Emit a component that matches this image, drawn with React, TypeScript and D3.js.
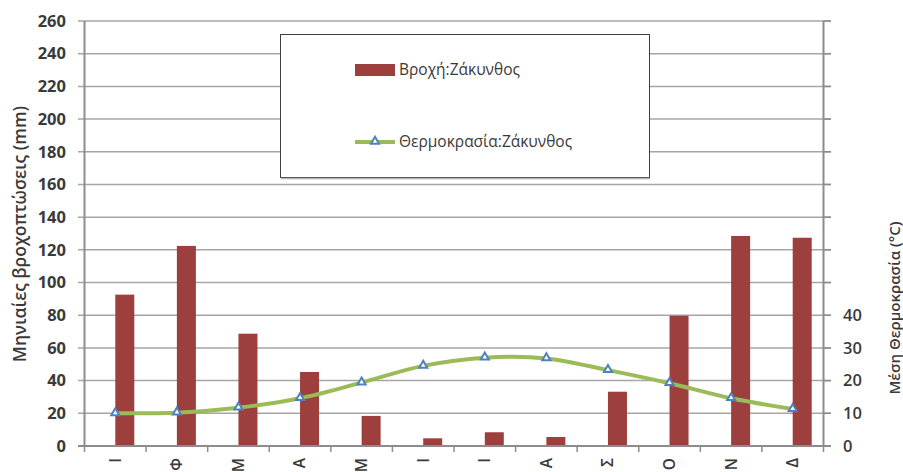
import React from "react";
import * as d3 from "d3";

const months = ["Ι", "Φ", "Μ", "Α", "Μ", "Ι", "Ι", "Α", "Σ", "Ο", "Ν", "Δ"];
const rain = [92.6, 122.4, 68.7, 45.3, 18.4, 4.7, 8.4, 5.5, 33.2, 79.7, 128.5, 127.4];
const temp = [10.0, 10.2, 11.7, 14.6, 19.4, 24.5, 27.0, 26.8, 23.2, 19.2, 14.6, 11.3];
const rainTicks = [0, 20, 40, 60, 80, 100, 120, 140, 160, 180, 200, 220, 240, 260];
const tempTicks = [0, 10, 20, 30, 40, 50, 60, 70, 80, 90, 100, 110, 120, 130];
const tempLabelTicks = [0, 10, 20, 30, 40];
const rainName = "Βροχή:Ζάκυνθος";
const tempName = "Θερμοκρασία:Ζάκυνθος";
const leftTitle = "Μηνιαίες βροχοπτώσεις (mm)";
const rightTitle = "Μέση Θερμοκρασία (°C)";

const W = 903;
const H = 472;
const L = 84.5;
const R = 823.5;
const T = 21;
const B = 446;
const FONT = "'Open Sans', 'DejaVu Sans', sans-serif";
const BAR = "#9c3f3d";
const LINE = "#9bbb59";
const MARK = "#4f81bd";
const GRID = "#a6a6a6";
const AXIS = "#8c8c8c";
const TXT = "#3a3a3a";

export default function App() {
  const idx = months.map((_, i) => i);
  const x = d3.scaleBand<number>().domain(idx).range([L, R]).padding(0);
  const yR = d3.scaleLinear().domain([0, 260]).range([B, T]);
  const yT = d3.scaleLinear().domain([0, 130]).range([B, T]);
  const cx = (i: number) => (x(i) as number) + x.bandwidth() / 2;
  const barW = 19;
  const line = d3
    .line<number>()
    .x((_, i) => cx(i))
    .y((d) => yT(d))
    .curve(d3.curveCatmullRom.alpha(0.5));
  const tri = d3.symbol().type(d3.symbolTriangle).size(28)();
  const boundaries = d3.range(months.length + 1).map((i) => L + i * x.bandwidth());

  return (
    <svg width={W} height={H} style={{ position: "absolute", left: 0, top: 0, background: "#fff" }}>
      {/* gridlines */}
      {rainTicks.filter((t) => t > 0).map((t) => (
        <line key={"g" + t} x1={78} x2={831} y1={yR(t)} y2={yR(t)} stroke={GRID} strokeWidth={1.5} />
      ))}
      {/* bars */}
      {rain.map((v, i) => (
        <rect key={"b" + i} x={cx(i)} y={yR(v)} width={barW} height={B - yR(v)} fill={BAR} />
      ))}
      {/* axes */}
      <line x1={L} x2={L} y1={T} y2={B} stroke={AXIS} strokeWidth={2} />
      <line x1={R} x2={R} y1={T} y2={B} stroke={AXIS} strokeWidth={2} />
      <line x1={78} x2={831} y1={B} y2={B} stroke={AXIS} strokeWidth={2} />
      {boundaries.map((bx, i) => (
        <line key={"xt" + i} x1={bx} x2={bx} y1={B} y2={B + 6} stroke={AXIS} strokeWidth={1.5} />
      ))}
      {/* left tick labels */}
      {rainTicks.map((t) => (
        <text key={"lt" + t} x={66} y={yR(t)} dy="0.35em" textAnchor="end" fontFamily={FONT}
          fontWeight="bold" fontSize={16.5} fill={TXT}>{t}</text>
      ))}
      {/* right ticks */}
      {tempTicks.map((t) => (
        <line key={"rt" + t} x1={R} x2={831} y1={yT(t)} y2={yT(t)} stroke={AXIS} strokeWidth={1.5} />
      ))}
      {tempLabelTicks.map((t) => (
        <text key={"rl" + t} x={843} y={yT(t)} dy="0.35em" textAnchor="start" fontFamily={FONT}
          fontSize={16.5} fontWeight={600} fill={TXT}>{t}</text>
      ))}
      {/* x labels */}
      {months.map((m, i) => (
        <text key={"xl" + i} transform={`translate(${cx(i)},458) rotate(-90)`} dy="0.35em" textAnchor="end"
          fontFamily={FONT} fontSize={15.5} fontWeight={600} fill={TXT}>{m}</text>
      ))}
      {/* temperature line */}
      <path d={line(temp) || ""} fill="none" stroke={LINE} strokeWidth={4} strokeLinejoin="round" />
      {temp.map((v, i) => (
        <path key={"m" + i} d={tri || ""} transform={`translate(${cx(i)},${yT(v) - 0.5})`} fill="#fff"
          stroke={MARK} strokeWidth={2} />
      ))}
      {/* axis titles */}
      <text transform={`translate(20,234) rotate(-90)`} dy="0.35em" textAnchor="middle" fontFamily={FONT}
        fontSize={17.5} fontWeight={600} fill={TXT}>{leftTitle}</text>
      <text transform={`translate(895,308) rotate(-90)`} dy="0.35em" textAnchor="middle" fontFamily={FONT}
        fontSize={15} fontWeight={600} fill={TXT}>{rightTitle}</text>
      {/* legend */}
      <rect x={280.5} y={34.5} width={369} height={143} fill="#fff" stroke="#404040" strokeWidth={1} />
      <line x1={281} x2={650} y1={178.5} y2={178.5} stroke="#b0b0b0" strokeWidth={1.5} />
      <rect x={355} y={64} width={40} height={12} fill={BAR} />
      <text x={399} y={70} dy="0.35em" fontFamily={FONT} fontSize={15.5} fill={TXT}>{rainName}</text>
      <line x1={355} x2={395} y1={142} y2={142} stroke={LINE} strokeWidth={4} />
      <path d={tri || ""} transform="translate(375,141.5)" fill="#fff" stroke={MARK} strokeWidth={2} />
      <text x={399} y={142} dy="0.35em" fontFamily={FONT} fontSize={15.5} fill={TXT}>{tempName}</text>
    </svg>
  );
}
